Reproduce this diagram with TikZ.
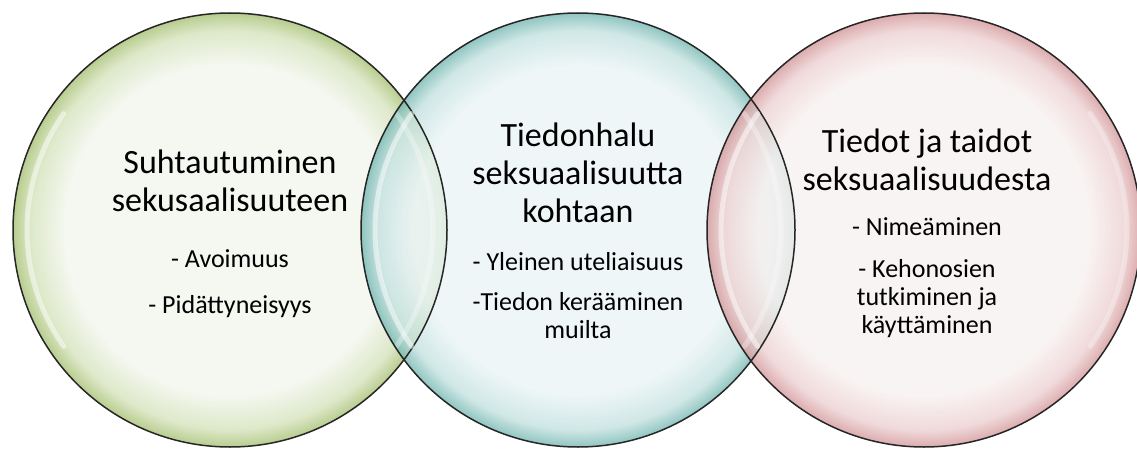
\documentclass[tikz,border=0pt]{standalone}
\usepackage{fontspec}
\setmainfont{Carlito}
\usetikzlibrary{positioning}

\definecolor{grnIn}{HTML}{F3F6EE}
\definecolor{grnMid}{HTML}{D6E3BD}
\definecolor{grnOut}{HTML}{A8C276}
\definecolor{teaIn}{HTML}{EAF4F5}
\definecolor{teaMid}{HTML}{C5E2E0}
\definecolor{teaOut}{HTML}{78B9B4}
\definecolor{pnkIn}{HTML}{F8F1F1}
\definecolor{pnkMid}{HTML}{EDD2D3}
\definecolor{pnkOut}{HTML}{D59A9D}

\pgfdeclareradialshading{bubgreen}{\pgfpoint{0bp}{0bp}}{color(0bp)=(grnIn); color(19bp)=(grnIn); color(23bp)=(grnMid); color(25bp)=(grnOut); color(50bp)=(grnOut)}
\pgfdeclareradialshading{bubteal}{\pgfpoint{0bp}{0bp}}{color(0bp)=(teaIn); color(19bp)=(teaIn); color(23bp)=(teaMid); color(25bp)=(teaOut); color(50bp)=(teaOut)}
\pgfdeclareradialshading{bubpink}{\pgfpoint{0bp}{0bp}}{color(0bp)=(pnkIn); color(19bp)=(pnkIn); color(23bp)=(pnkMid); color(25bp)=(pnkOut); color(50bp)=(pnkOut)}

\tikzset{
  rim/.style={draw=black!85,line width=1.5pt},
  gloss/.style={draw=white,line width=5pt,line cap=round,opacity=0.5},
  head/.style={font=\fontsize{34}{38}\selectfont,align=center,anchor=base,inner sep=0pt},
  item/.style={font=\fontsize{26}{28}\selectfont,align=center,anchor=base,inner sep=0pt}
}

\begin{document}
\begin{tikzpicture}[x=1pt,y=1pt]
  \useasboundingbox (0,0) rectangle (1137,448);

  % Bubbles, then glare and rims on top
  \foreach \c/\s in {230/bubgreen,578/bubteal,924/bubpink}{
    \shade[shading=\s,fill opacity=0.82] (\c,218) circle (217);
  }
  \foreach \c in {230,578,924}{
    \draw[gloss] ([shift={(145:203)}]\c,218) arc (145:215:203);
    \draw[gloss,opacity=0.3] ([shift={(-35:203)}]\c,218) arc (-35:35:203);
    \draw[rim] (\c,218) circle (217);
  }

  % Left bubble (base = last line)
  \node[head] (attHead) at (230,237) {Suhtautuminen\\sekusaalisuuteen};
  \node[item] (attOpen) at (230,181) {- Avoimuus};
  \node[item] (attShy)  at (230,135) {- Pidättyneisyys};

  % Middle bubble
  \node[head] (curHead) at (578,226) {Tiedonhalu\\seksuaalisuutta\\kohtaan};
  \node[item] (curGen)  at (578,178) {- Yleinen uteliaisuus};
  \node[item] (curAsk)  at (578,110) {-Tiedon kerääminen\\muilta};

  % Right bubble
  \node[head] (sklHead) at (927,258) {Tiedot ja taidot\\seksuaalisuudesta};
  \node[item] (sklName) at (927,213) {- Nimeäminen};
  \node[item] (sklBody) at (927,115) {- Kehonosien\\tutkiminen ja\\käyttäminen};
\end{tikzpicture}
\end{document}
